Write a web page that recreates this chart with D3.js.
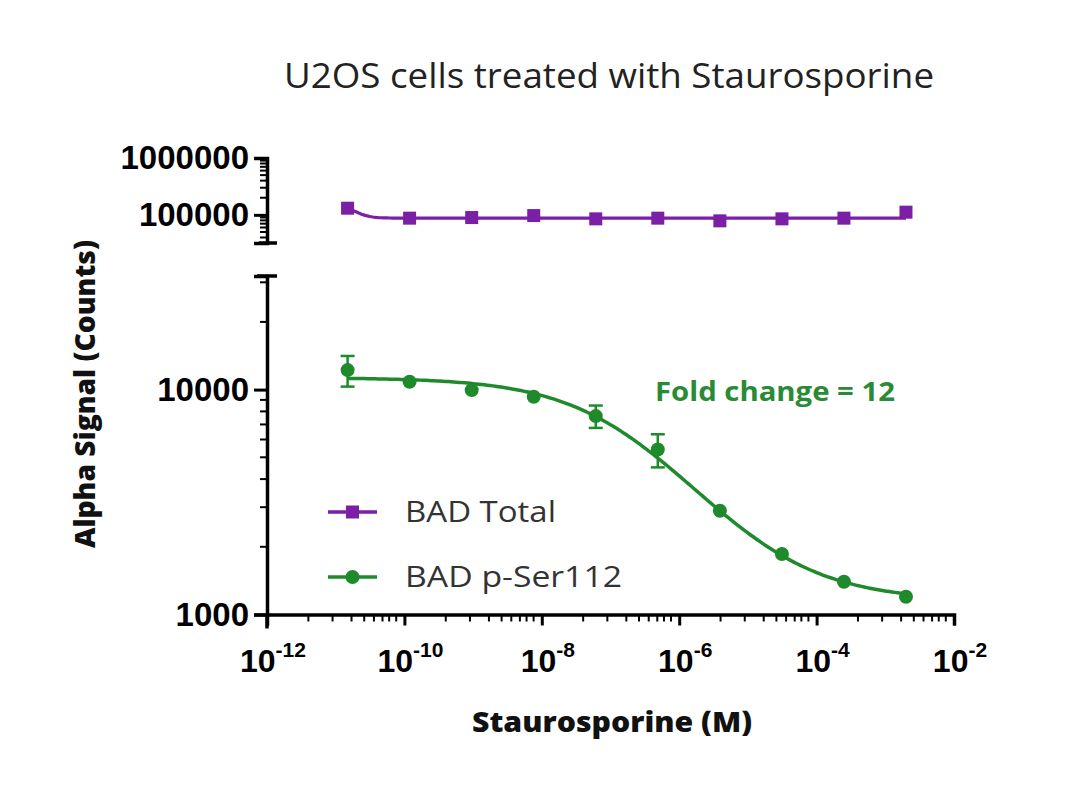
<!DOCTYPE html>
<html><head><meta charset="utf-8">
<script src="https://cdn.jsdelivr.net/npm/d3@7"></script>
<style>
html,body{margin:0;padding:0;background:#fff;}
svg{display:block;}
</style></head>
<body>
<svg id="chart" width="1080" height="795"></svg>
<script>
// ---------------- data ----------------
const concentrations = [1.49e-11, 1.19e-10, 9.54e-10, 7.63e-9, 6.10e-8, 4.88e-7, 3.91e-6, 3.13e-5, 2.50e-4, 2.0e-3];
const badTotal = [131000, 87500, 89700, 97200, 85100, 87500, 78500, 85100, 87500, 111500];
const badPSer112 = [12210, 10830, 9950, 9290, 7625, 5420, 2893, 1857, 1399, 1200];
const badPSer112Err = [1900, 0, 0, 0, 870, 910, 0, 0, 0, 0];
// fitted 4PL curve parameters (top, bottom, logEC50, hill)
const fitTotal = {top: 150000, bottom: 87500, logC: -10.745, hill: 4};
const fitPSer = {top: 11300, bottom: 1150, logC: -6.745, hill: 0.511};
const xTickValues = [1e-12, 1e-10, 1e-8, 1e-6, 1e-4, 1e-2];
const xTickExponents = ["-12", "-10", "-8", "-6", "-4", "-2"];
const xMinorMultipliers = [4, 9, 17, 26, 36, 48, 60, 76];
const yLowTicks = [1000, 10000];
const yHighTicks = [100000, 1000000];
const seriesNames = ["BAD Total", "BAD p-Ser112"];
const titleText = "U2OS cells treated with Staurosporine";
const xTitle = "Staurosporine (M)";
const yTitle = "Alpha Signal (Counts)";
const annotation = "Fold change = 12";

// ---------------- setup ----------------
const purple = "#7a1fa6";
const green = "#1f8a2b";
const svg = d3.select("#chart");

const x = d3.scaleLog().domain([1e-12, 1e-2]).range([267, 954]);
const yLow = d3.scaleLog().domain([1000, 32000]).range([614.5, 276]);
const yHigh = d3.scaleLog().domain([32000, 1e6]).range([243, 158]);
const yFor = v => v >= 32000 ? yHigh(v) : yLow(v);

// title
svg.append("text").attr("x", 609).attr("y", 88).attr("text-anchor", "middle")
  .attr("font-family", "Open Sans, sans-serif").attr("font-size", 34).attr("fill", "#222")
  .attr("textLength", 650).attr("lengthAdjust", "spacingAndGlyphs")
  .text(titleText);

// ---------------- axes ----------------
const axisG = svg.append("g");
const tickFont = "Liberation Sans, Arial, sans-serif";

function yAxisSegment(scale, majors) {
  const g = axisG.append("g").attr("transform", "translate(267,0)");
  const ax = d3.axisLeft(scale).tickValues(majors).tickSize(13).tickPadding(5)
    .tickFormat(d3.format("d"));
  g.call(ax);
  g.select(".domain").attr("stroke", "#000").attr("stroke-width", 3.5);
  g.selectAll(".tick line").attr("stroke", "#000").attr("stroke-width", 3);
  g.selectAll(".tick text").attr("font-family", tickFont).attr("font-weight", "bold")
    .attr("font-size", 33).attr("fill", "#000");
  // minor ticks
  const [lo, hi] = scale.domain();
  const minors = [];
  for (let dec = Math.floor(Math.log10(lo)); dec <= Math.ceil(Math.log10(hi)); dec++) {
    for (let k = 2; k <= 9; k++) {
      const v = k * Math.pow(10, dec);
      if (v > lo * 1.05 && v < hi * 0.97) minors.push(v);
    }
  }
  g.selectAll(".minor").data(minors).join("line").attr("class", "minor")
    .attr("x1", -7).attr("x2", 0).attr("y1", d => scale(d)).attr("y2", d => scale(d))
    .attr("stroke", "#000").attr("stroke-width", 2);
  return g;
}
const gLow = yAxisSegment(yLow, yLowTicks);
const gHigh = yAxisSegment(yHigh, yHighTicks);
// break caps
gLow.append("line").attr("x1", -10).attr("x2", 10).attr("y1", yLow(32000)).attr("y2", yLow(32000))
  .attr("stroke", "#000").attr("stroke-width", 3.5);
gHigh.append("line").attr("x1", -8).attr("x2", 10).attr("y1", yHigh(32000)).attr("y2", yHigh(32000))
  .attr("stroke", "#000").attr("stroke-width", 3.5);
// y axis extends below x axis at origin
gLow.append("line").attr("x1", 0).attr("x2", 0).attr("y1", yLow(1000)).attr("y2", yLow(1000) + 14)
  .attr("stroke", "#000").attr("stroke-width", 3.5);

// x axis
const gx = axisG.append("g").attr("transform", `translate(0,${yLow(1000)})`);
gx.call(d3.axisBottom(x).tickValues(xTickValues).tickSize(11).tickFormat(""));
gx.select(".domain").attr("stroke", "#000").attr("stroke-width", 3.5);
gx.selectAll(".tick line").attr("stroke", "#000").attr("stroke-width", 3);
const xMinors = [];
xTickValues.slice(0, -1).forEach(t => xMinorMultipliers.forEach(m => xMinors.push(t * m)));
gx.selectAll(".minor").data(xMinors).join("line").attr("class", "minor")
  .attr("x1", d => x(d)).attr("x2", d => x(d)).attr("y1", 0).attr("y2", 7)
  .attr("stroke", "#000").attr("stroke-width", 2);
// x tick labels with superscripts
const xl = gx.selectAll(".xl").data(xTickValues).join("text").attr("class", "xl")
  .attr("x", d => x(d) + 6).attr("y", 57).attr("text-anchor", "middle")
  .attr("font-family", tickFont).attr("font-weight", "bold").attr("font-size", 32).attr("fill", "#000");
xl.append("tspan").text("10");
xl.append("tspan").attr("dy", -15).attr("font-size", 21).text((d, i) => xTickExponents[i]);

// axis titles
svg.append("text").attr("x", 612).attr("y", 732).attr("text-anchor", "middle")
  .attr("font-family", "Open Sans, sans-serif").attr("font-weight", 800).attr("font-size", 28)
  .attr("textLength", 280).attr("lengthAdjust", "spacingAndGlyphs")
  .attr("fill", "#111").text(xTitle);
svg.append("text").attr("transform", "translate(95,394) rotate(-90)").attr("text-anchor", "middle")
  .attr("font-family", "Open Sans, sans-serif").attr("font-weight", 800).attr("font-size", 28)
  .attr("textLength", 308).attr("lengthAdjust", "spacingAndGlyphs")
  .attr("fill", "#111").text(yTitle);

// ---------------- curves ----------------
function fourPL(p, c) { return p.bottom + (p.top - p.bottom) / (1 + Math.pow(10, p.hill * (Math.log10(c) - p.logC))); }
const curveXs = d3.range(0, 201).map(i => Math.pow(10, Math.log10(concentrations[0]) + i / 200 * (Math.log10(concentrations[concentrations.length - 1]) - Math.log10(concentrations[0]))));
const line = d3.line().x(d => x(d[0])).y(d => yFor(d[1])).curve(d3.curveLinear);
svg.append("path").datum(curveXs.map(c => [c, fourPL(fitTotal, c)]))
  .attr("d", line).attr("fill", "none").attr("stroke", purple).attr("stroke-width", 3.2);
svg.append("path").datum(curveXs.map(c => [c, fourPL(fitPSer, c)]))
  .attr("d", line).attr("fill", "none").attr("stroke", green).attr("stroke-width", 3.5);

// error bars
const errData = concentrations.map((c, i) => ({c, v: badPSer112[i], e: badPSer112Err[i]})).filter(d => d.e > 0);
const eb = svg.append("g").attr("stroke", green).attr("stroke-width", 2.5);
errData.forEach(d => {
  const cx = x(d.c);
  eb.append("line").attr("x1", cx).attr("x2", cx).attr("y1", yFor(d.v + d.e)).attr("y2", yFor(d.v - d.e));
  eb.append("line").attr("x1", cx - 7).attr("x2", cx + 7).attr("y1", yFor(d.v + d.e)).attr("y2", yFor(d.v + d.e));
  eb.append("line").attr("x1", cx - 7).attr("x2", cx + 7).attr("y1", yFor(d.v - d.e)).attr("y2", yFor(d.v - d.e));
});

// markers
svg.append("g").selectAll("rect").data(concentrations.map((c, i) => [c, badTotal[i]])).join("rect")
  .attr("x", d => x(d[0]) - 6.5).attr("y", d => yFor(d[1]) - 6.5).attr("width", 13).attr("height", 13)
  .attr("fill", purple);
svg.append("g").selectAll("circle").data(concentrations.map((c, i) => [c, badPSer112[i]])).join("circle")
  .attr("cx", d => x(d[0])).attr("cy", d => yFor(d[1])).attr("r", 7).attr("fill", green);

// annotation
svg.append("text").attr("x", 655).attr("y", 401)
  .attr("font-family", "Open Sans, sans-serif").attr("font-weight", 700).attr("font-size", 26)
  .attr("textLength", 240).attr("lengthAdjust", "spacingAndGlyphs")
  .attr("fill", "#2b8a35").text(annotation);

// legend
const legend = svg.append("g");
const legY = [512, 577];
const legColors = [purple, green];
const legWidths = [151, 217];
seriesNames.forEach((name, i) => {
  legend.append("line").attr("x1", 328).attr("x2", 377).attr("y1", legY[i]).attr("y2", legY[i])
    .attr("stroke", legColors[i]).attr("stroke-width", 3.5);
  if (i === 0) legend.append("rect").attr("x", 346).attr("y", legY[i] - 6.5).attr("width", 13).attr("height", 13).attr("fill", purple);
  else legend.append("circle").attr("cx", 352.5).attr("cy", legY[i]).attr("r", 7).attr("fill", green);
  legend.append("text").attr("x", 405).attr("y", legY[i] + 10)
    .attr("font-family", "Open Sans, sans-serif").attr("font-size", 29)
    .attr("textLength", legWidths[i]).attr("lengthAdjust", "spacingAndGlyphs")
    .attr("fill", "#333").text(name);
});
</script>
</body></html>
